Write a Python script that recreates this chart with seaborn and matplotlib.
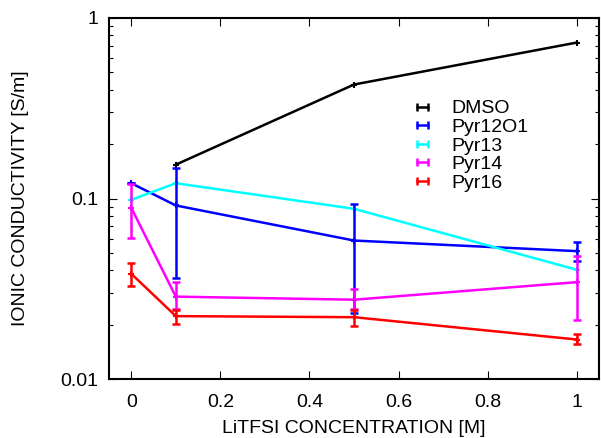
import numpy as np
import pandas as pd
import matplotlib
matplotlib.use("Agg")
import matplotlib.pyplot as plt
import seaborn as sns
from matplotlib.lines import Line2D
from matplotlib.ticker import LogLocator, NullFormatter, FixedLocator

# ---- data ----
conc = [0.0, 0.1, 0.5, 1.0]
series_names = ["DMSO", "Pyr12O1", "Pyr13", "Pyr14", "Pyr16"]
dmso = [np.nan, 0.154, 0.428, 0.731]
pyr12o1 = [0.1215, 0.0915, 0.0585, 0.0511]
pyr12o1_lo = [0.1215, 0.0365, 0.0232, 0.0448]
pyr12o1_hi = [0.1215, 0.148, 0.0935, 0.0573]
pyr13 = [0.0984, 0.1215, 0.0877, 0.0403]
pyr14 = [0.0888, 0.0286, 0.0275, 0.0344]
pyr14_lo = [0.0602, 0.0245, 0.0245, 0.0211]
pyr14_hi = [0.120, 0.0343, 0.0316, 0.0478]
pyr16 = [0.0383, 0.0223, 0.0220, 0.01655]
pyr16_lo = [0.0326, 0.0202, 0.0196, 0.0156]
pyr16_hi = [0.0439, 0.0242, 0.0242, 0.0177]
x_ticks = [0, 0.2, 0.4, 0.6, 0.8, 1]
x_tick_labels = ["0", "0.2", "0.4", "0.6", "0.8", "1"]
y_tick_labels = ["0.01", "0.1", "1"]

colors = {"DMSO": "#000000", "Pyr12O1": "#0000ff", "Pyr13": "#00ffff",
          "Pyr14": "#ff00ff", "Pyr16": "#ff0000"}

values = {"DMSO": dmso, "Pyr12O1": pyr12o1, "Pyr13": pyr13, "Pyr14": pyr14, "Pyr16": pyr16}
errs = {"Pyr12O1": (pyr12o1_lo, pyr12o1_hi), "Pyr14": (pyr14_lo, pyr14_hi),
        "Pyr16": (pyr16_lo, pyr16_hi)}

rows = []
for name in series_names:
    for x, v in zip(conc, values[name]):
        if not np.isnan(v):
            rows.append({"conc": x, "sigma": v, "series": name})
df = pd.DataFrame(rows)

sns.set_style("ticks")
plt.rcParams["font.family"] = ["Liberation Sans", "DejaVu Sans"]
plt.rcParams["font.size"] = 14
plt.rcParams["text.color"] = "black"
plt.rcParams["axes.labelcolor"] = "black"

fig = plt.figure(figsize=(6.01, 4.38), dpi=100)
ax = fig.add_axes([109 / 601, 1 - 379 / 438, (599 - 109) / 601, (379 - 18) / 438])

sns.lineplot(data=df, x="conc", y="sigma", hue="series", palette=colors,
             hue_order=series_names, marker="+", markersize=5,
             linewidth=1.8, ax=ax, legend=False, estimator=None, sort=True)
for ln in ax.lines:
    ln.set_markeredgecolor(ln.get_color())
    ln.set_markeredgewidth(1.5)

for name, (lo, hi) in errs.items():
    v = np.array(values[name])
    lo = np.array(lo); hi = np.array(hi)
    ax.errorbar(conc, v, yerr=[v - lo, hi - v], fmt="none", ecolor=colors[name],
                elinewidth=1.8, capsize=3, capthick=1.8, zorder=3)

ax.set_yscale("log")
ax.set_ylim(0.01, 1)
ax.set_xlim(-0.05, 1.05)
ax.xaxis.set_major_locator(FixedLocator(x_ticks))
ax.set_xticklabels(x_tick_labels)
ax.yaxis.set_major_locator(FixedLocator([0.01, 0.1, 1]))
ax.set_yticklabels(y_tick_labels)
ax.yaxis.set_minor_locator(LogLocator(base=10, subs=np.arange(2, 10)))
ax.yaxis.set_minor_formatter(NullFormatter())

ax.tick_params(which="both", direction="in", top=True, right=True, colors="black",
               labelsize=14, width=0.8)
ax.tick_params(which="major", length=6)
ax.tick_params(axis="x", which="major", pad=11)
ax.tick_params(axis="y", which="major", pad=8)
ax.tick_params(which="minor", length=3)
for s in ax.spines.values():
    s.set_linewidth(1.5)
    s.set_color("black")

ax.set_xlabel("LiTFSI CONCENTRATION [M]", fontsize=14, labelpad=6, color="black")
ax.set_ylabel("IONIC CONDUCTIVITY [S/m]", fontsize=14, labelpad=22, color="black")

handles = [Line2D([0], [0], color=colors[n], lw=1.8, marker="|", markersize=6,
                  markeredgewidth=1.8) for n in series_names]
leg = ax.legend(handles, series_names, loc="upper left", bbox_to_anchor=(0.60, 0.795),
                frameon=False, fontsize=14, numpoints=2, handlelength=1.2,
                handletextpad=0.9, labelspacing=0.05, borderaxespad=0)
for t in leg.get_texts():
    t.set_color("black")

fig.savefig("out.png", dpi=100)
